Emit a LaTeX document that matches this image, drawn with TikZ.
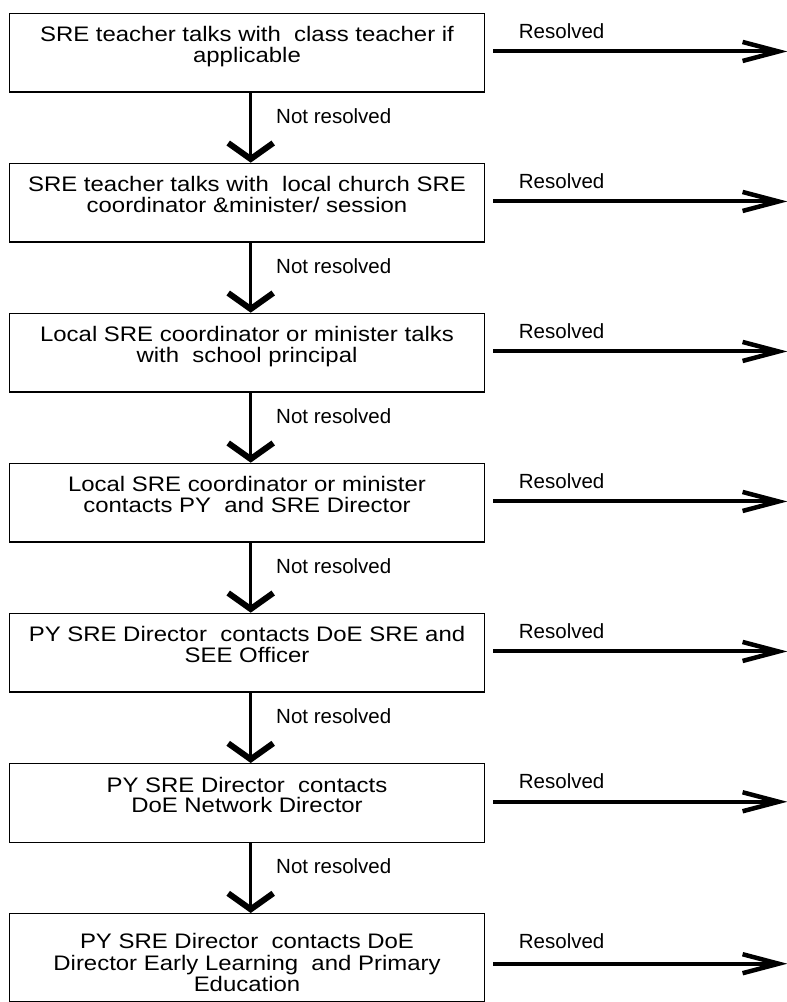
\documentclass[tikz,border=0pt]{standalone}
\usepackage{fontspec}
\setmainfont{Liberation Sans}
\newfontfamily\boxfont[FakeStretch=1.14]{Liberation Sans}
\usetikzlibrary{arrows.meta,calc}
\begin{document}
\begin{tikzpicture}[x=1pt,y=-1pt,
  stepbox/.style={draw=black, line width=1.4pt, minimum width=475.4pt,
    inner xsep=0pt, inner ysep=0pt, align=center, anchor=north,
    font=\boxfont\fontsize{21pt}{20.5pt}\selectfont,
    text height=49pt, text depth=29.5pt},
  lab/.style={font=\fontsize{20.5pt}{22pt}\selectfont, inner sep=0pt, anchor=west},
  resarrow/.style={line width=4pt, -{Straight Barb[length=36pt,width=19pt,line width=4.5pt]}},
  notarrow/.style={line width=3.2pt, -{Straight Barb[length=16pt,width=45pt,line width=6pt]}}
]
\useasboundingbox (0,0) rectangle (787,1002);

\node[stepbox] (b1) at (247,12.7) {SRE teacher talks with\ \ class teacher if\\applicable};
\node[stepbox] (b2) at (247,162.7) {SRE teacher talks with\ \ local church SRE\\coordinator \&minister/ session};
\node[stepbox] (b3) at (247,312.7) {Local SRE coordinator or minister talks\\with\ \ school principal};
\node[stepbox] (b4) at (247,462.7) {Local SRE coordinator or minister\\contacts PY\ \ and SRE Director};
\node[stepbox] (b5) at (247,612.7) {PY SRE Director\ \ contacts DoE SRE and\\SEE Officer};
\node[stepbox] (b6) at (247,763) {PY SRE Director\ \ contacts\\DoE Network Director};
\node[stepbox, font=\boxfont\fontsize{21pt}{21.5pt}\selectfont, text height=78pt, text depth=10pt] (b7) at (247,913) {PY SRE Director\ \ contacts DoE\\Director Early Learning\ \ and Primary\\Education};

% Resolved arrows
\foreach \i in {1,...,6}{
  \coordinate (r\i) at ($(b\i.east)+(302,-1.2)$);
  \draw[resarrow] ([xshift=8pt,yshift=1.2pt]b\i.east) -- (r\i);
  \node[lab] (rl\i) at ($(b\i.east)+(33.3,-21.3)$) {Resolved};
}
\coordinate (r7) at ($(b7.east)+(302,6)$);
\draw[resarrow] ([xshift=8pt,yshift=-6pt]b7.east) -- (r7);
\node[lab] (rl7) at ($(b7.east)+(33.3,-16.5)$) {Resolved};

% Not resolved arrows
\foreach \i/\j in {1/2,2/3,3/4,4/5,5/6,6/7}{
  \draw[notarrow] ([xshift=3.7pt]b\i.south) -- ([xshift=3.7pt]b\j.north);
  \node[lab] (nl\i) at ($($(b\i.south)!0.5!(b\j.north)$)+(29,-11.5)$) {Not resolved};
}
\end{tikzpicture}
\end{document}
